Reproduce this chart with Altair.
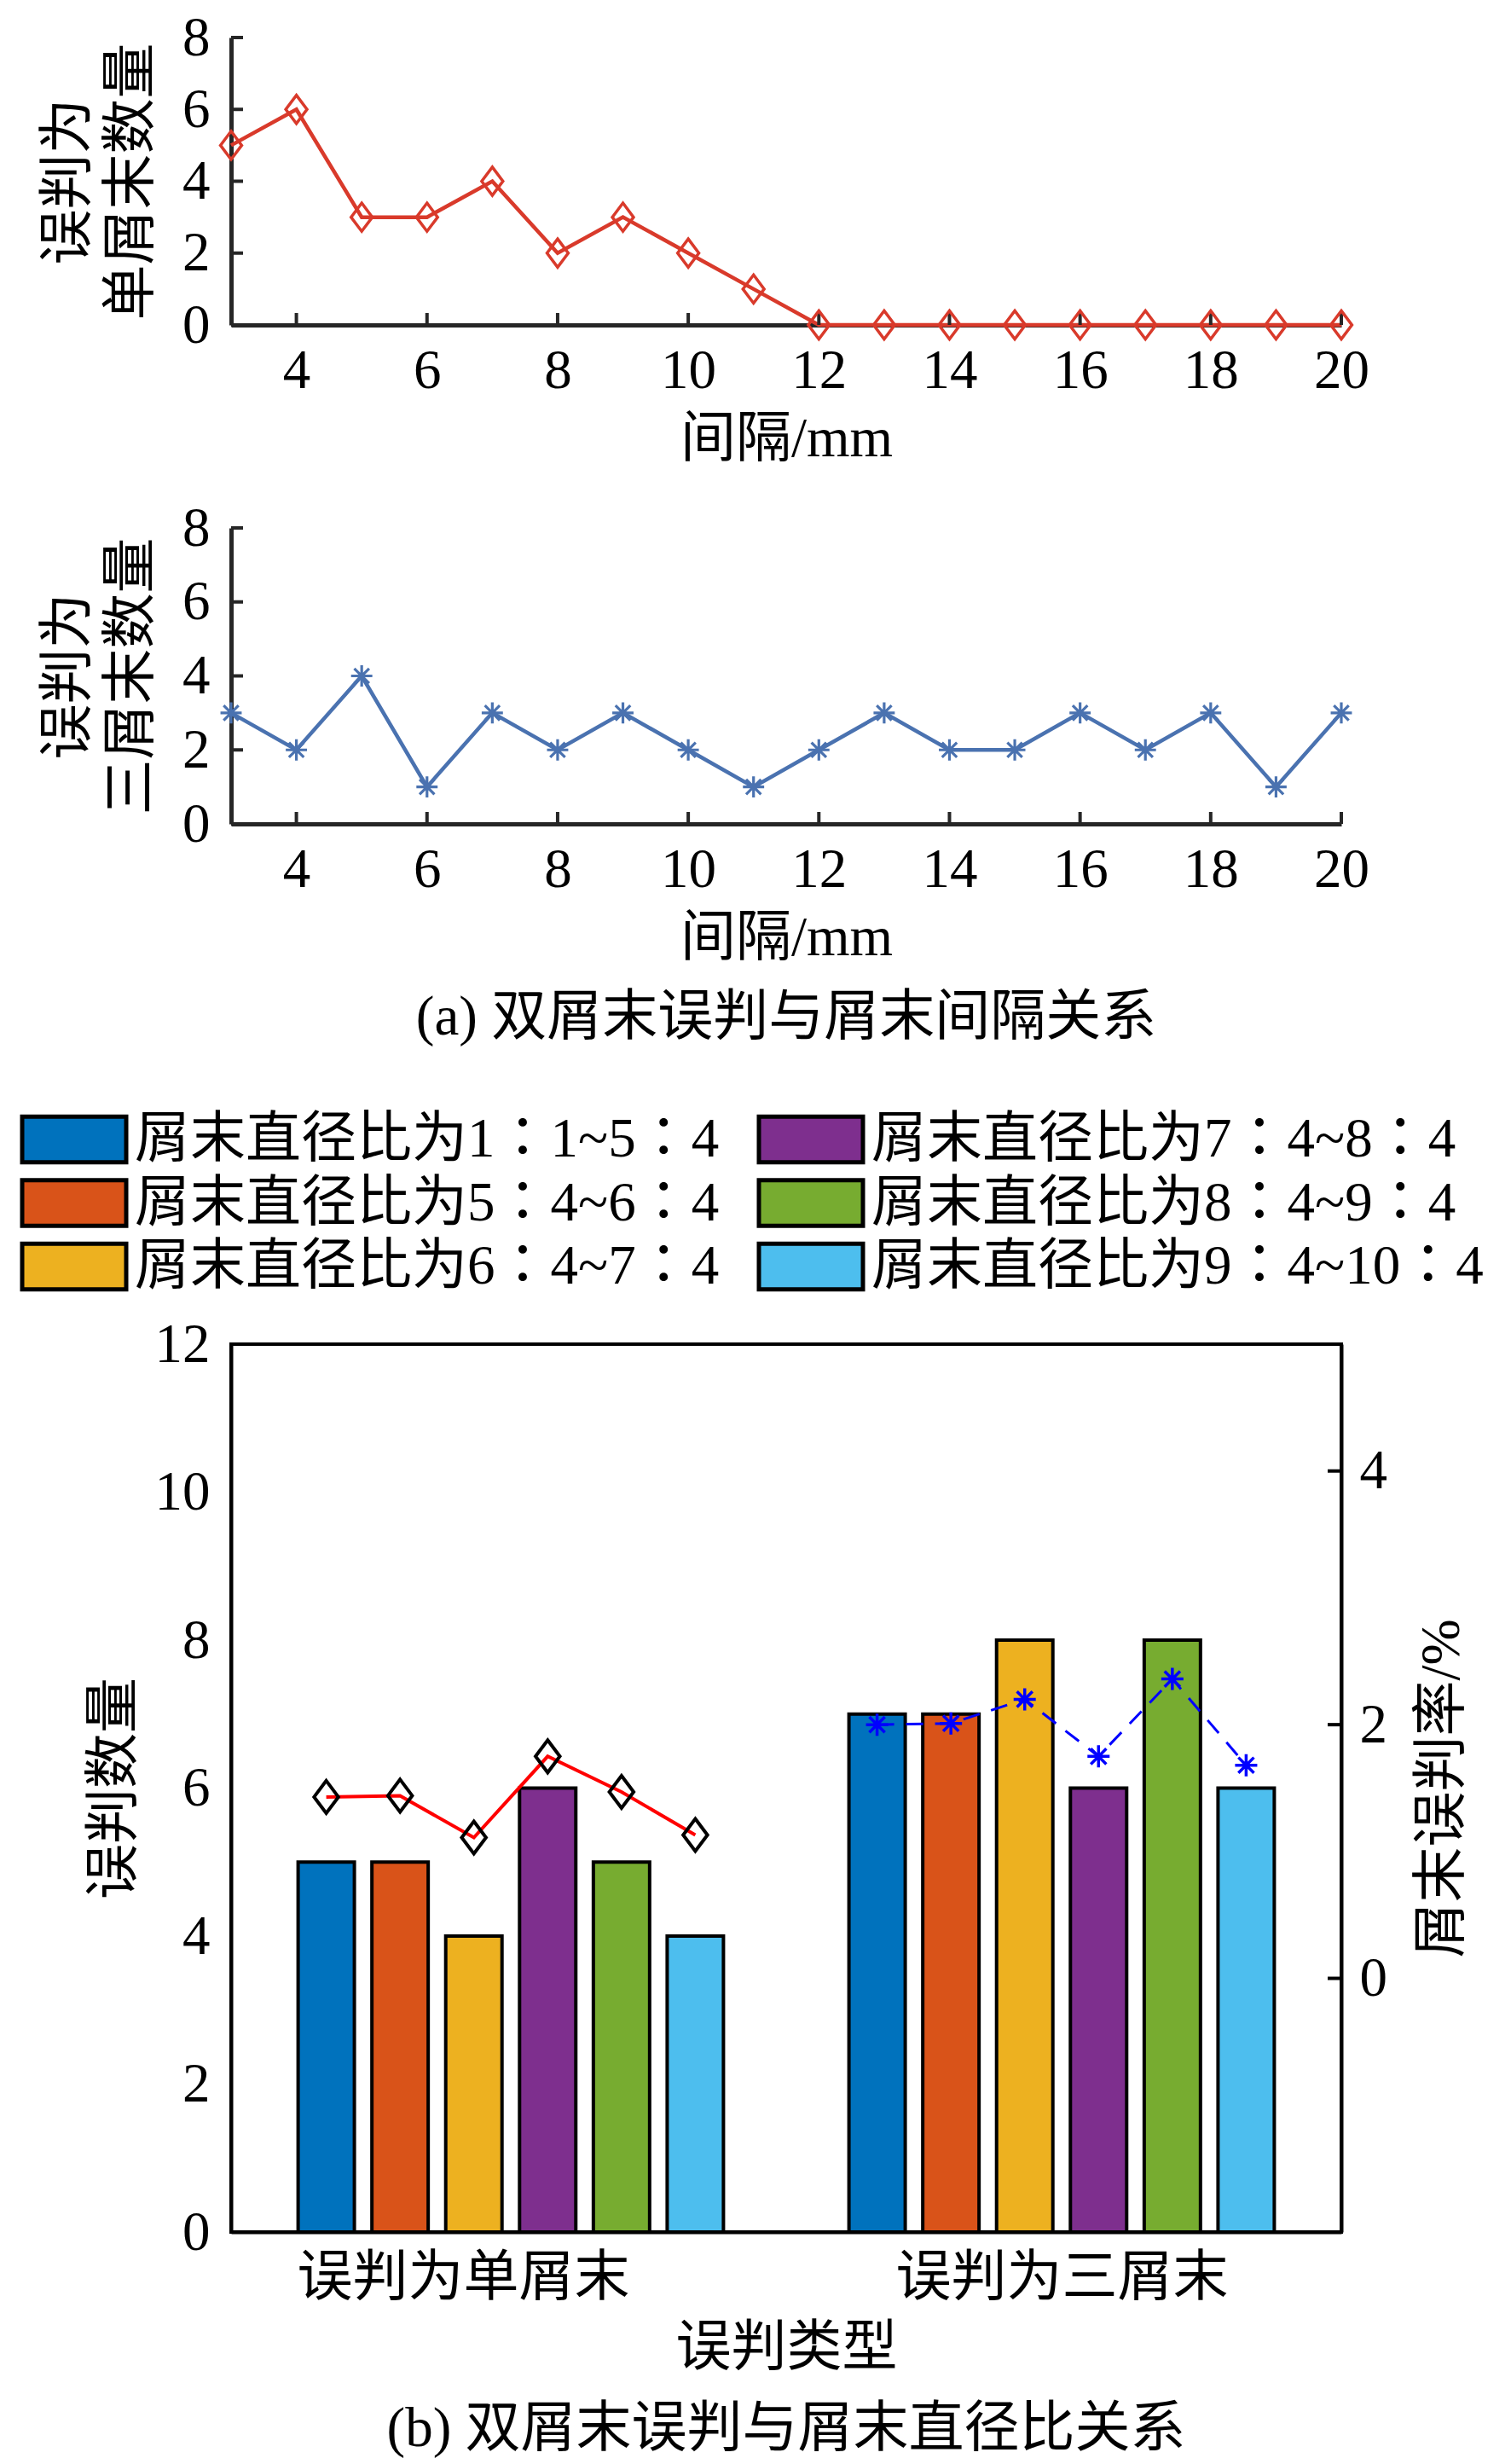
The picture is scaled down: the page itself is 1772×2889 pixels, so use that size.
import altair as alt
import pandas as pd

FONT = "Liberation Serif, Noto Sans CJK SC"
FONT_LEG = "Liberation Serif, Noto Sans CJK TC"

# ---------------- data ----------------
spacing_mm = list(range(3, 21))
single_counts = [5, 6, 3, 3, 4, 2, 3, 2, 1, 0, 0, 0, 0, 0, 0, 0, 0, 0]
triple_counts = [3, 2, 4, 1, 3, 2, 3, 2, 1, 2, 3, 2, 2, 3, 2, 3, 1, 3]
x_ticks = [4, 6, 8, 10, 12, 14, 16, 18, 20]
y_ticks_top = [0, 2, 4, 6, 8]

categories = ["误判为单屑末", "误判为三屑末"]
ratio_labels = [
    "屑末直径比为1：1~5：4",
    "屑末直径比为5：4~6：4",
    "屑末直径比为6：4~7：4",
    "屑末直径比为7：4~8：4",
    "屑末直径比为8：4~9：4",
    "屑末直径比为9：4~10：4",
]
bar_colors = ["#0072BD", "#D95319", "#EDB120", "#7E2F8E", "#77AC30", "#4DBEEE"]
bar_single = [5, 5, 4, 6, 5, 4]
bar_triple = [7, 7, 8, 6, 8, 6]
rate_single = [1.43, 1.44, 1.11, 1.75, 1.47, 1.13]
rate_triple = [2.00, 2.01, 2.20, 1.75, 2.36, 1.68]
left_ticks = [0, 2, 4, 6, 8, 10, 12]
right_ticks = [0, 2, 4]
legend_col = [0, 0, 0, 1, 1, 1]
legend_row = [0, 1, 2, 0, 1, 2]

# ---------------- layout / style ----------------
W = 1302
H_TOP1 = 337
H_TOP2 = 347
H_BOT = 1041
AX = "#262626"
DIAMOND = "M0,-1L0.75,0L0,1L-0.75,0Z"
ASTER = "M0,-1L0,1M-1,0L1,0M-0.7,-0.7L0.7,0.7M-0.7,0.7L0.7,-0.7"
SWATCH = "M-1,-0.44L1,-0.44L1,0.44L-1,0.44Z"


def top_panel(values, color, shape, size, sw, title_lines, h):
    df = pd.DataFrame({"x": spacing_mm, "y": values})
    xs = alt.Scale(domain=[3, 20], nice=False, zero=False)
    ys = alt.Scale(domain=[0, 8], nice=False)
    xax = alt.Axis(values=x_ticks, title="间隔/mm", ticks=False, grid=False,
                   domainColor=AX, domainWidth=5, labelPadding=22, titlePadding=16)
    yax = alt.Axis(values=y_ticks_top, title=title_lines, ticks=False, grid=False,
                   domainColor=AX, domainWidth=5, labelPadding=25, titlePadding=26,
                   titleLineHeight=74)
    line = alt.Chart(df).mark_line(color=color, strokeWidth=4.5).encode(
        x=alt.X("x:Q", scale=xs, axis=xax), y=alt.Y("y:Q", scale=ys, axis=yax))
    pts = alt.Chart(df).mark_point(shape=shape, size=size, filled=False, color=color,
                                   strokeWidth=sw, opacity=1).encode(
        x=alt.X("x:Q", scale=xs, axis=xax), y=alt.Y("y:Q", scale=ys, axis=yax))
    xt = alt.Chart(pd.DataFrame({"t": x_ticks})).mark_rule(color=AX, strokeWidth=4).encode(
        x=alt.X("t:Q", scale=xs, axis=xax), y=alt.value(h), y2=alt.value(h - 14))
    yt = alt.Chart(pd.DataFrame({"t": y_ticks_top})).mark_rule(color=AX, strokeWidth=4).encode(
        y=alt.Y("t:Q", scale=ys, axis=yax), x=alt.value(0), x2=alt.value(14))
    return alt.layer(line, xt, yt, pts).properties(width=W, height=h)


a1 = top_panel(single_counts, "#D93A2B", DIAMOND, 1100, 3.5, ["误判为", "单屑末数量"], H_TOP1)
a2 = top_panel(triple_counts, "#4A72B0", ASTER, 620, 3.2, ["误判为", "三屑末数量"], H_TOP2).properties(
    title=alt.TitleParams("(a) 双屑末误判与屑末间隔关系", orient="bottom", anchor="middle",
                          frame="group", offset=30, font=FONT, fontSize=65,
                          fontWeight="normal", color="black"))

# ---------------- legend panel ----------------
leg_df = pd.DataFrame({"label": ratio_labels, "col": legend_col, "row": legend_row})
xs_l = alt.Scale(domain=[0, 1], range=[-184, 680])
ys_l = alt.Scale(domain=[0, 2], range=[132, 281])
swatches = alt.Chart(leg_df).mark_point(shape=SWATCH, size=14884, filled=True, stroke="black",
                                        strokeWidth=5, opacity=1).encode(
    x=alt.X("col:Q", scale=xs_l, axis=None),
    y=alt.Y("row:Q", scale=ys_l, axis=None),
    fill=alt.Fill("label:N", scale=alt.Scale(domain=ratio_labels, range=bar_colors), legend=None))
texts = alt.Chart(leg_df).mark_text(align="left", baseline="middle", dx=71, font=FONT_LEG,
                                    fontSize=65, color="black").encode(
    x=alt.X("col:Q", scale=xs_l, axis=None),
    y=alt.Y("row:Q", scale=ys_l, axis=None),
    text="label:N")
legend_chart = alt.layer(swatches, texts).properties(width=W, height=134)

# ---------------- bottom panel ----------------
rows = []
for g, (counts, rates) in enumerate([(bar_single, rate_single), (bar_triple, rate_triple)]):
    for k in range(6):
        rows.append({"g": g, "label": ratio_labels[k], "pos": g + 1 + (k - 2.5) * 0.134,
                     "count": counts[k], "rate": rates[k]})
df_b = pd.DataFrame(rows)
df_s = df_b[df_b.g == 0]
df_t = df_b[df_b.g == 1]

xs_b = alt.Scale(domain=[0.5, 2.5], nice=False, zero=False)
label_expr = f"datum.value == 1 ? '{categories[0]}' : (datum.value == 2 ? '{categories[1]}' : '')"
xax_b = alt.Axis(values=[1, 2], labelExpr=label_expr, title="误判类型", ticks=False, grid=False,
                 domainColor="black", domainWidth=4, labelPadding=22, titlePadding=18,
                 labelLimit=2000,
                 labelOffset={"condition": {"test": "datum.value == 1", "value": -56}, "value": 0})
bars = alt.Chart(df_b).mark_bar(size=66, stroke="black", strokeWidth=4).encode(
    x=alt.X("pos:Q", scale=xs_b, axis=xax_b),
    y=alt.Y("count:Q", scale=alt.Scale(domain=[0, 12], nice=False),
            axis=alt.Axis(values=left_ticks, title="误判数量", ticks=False, grid=False,
                          domainColor="black", domainWidth=4, labelPadding=25, titlePadding=14)),
    color=alt.Color("label:N", scale=alt.Scale(domain=ratio_labels, range=bar_colors), legend=None))

ys_r = alt.Scale(domain=[-2, 5], nice=False, zero=False)
yax_r = alt.Axis(orient="right", values=right_ticks, title="屑末误判率/%", titleAngle=270,
                 titleBaseline="top", ticks=False, grid=False, domainColor="black", domainWidth=4,
                 labelPadding=21, titlePadding=33)
red_line = alt.Chart(df_s).mark_line(color="#FF0000", strokeWidth=4).encode(
    x=alt.X("pos:Q", scale=xs_b, axis=xax_b), y=alt.Y("rate:Q", scale=ys_r, axis=yax_r))
red_pts = alt.Chart(df_s).mark_point(shape=DIAMOND, size=1444, filled=False, color="black",
                                     strokeWidth=4, opacity=1).encode(
    x=alt.X("pos:Q", scale=xs_b, axis=xax_b), y=alt.Y("rate:Q", scale=ys_r, axis=yax_r))
blue_line = alt.Chart(df_t).mark_line(color="#0000FF", strokeWidth=3, strokeDash=[20, 14]).encode(
    x=alt.X("pos:Q", scale=xs_b, axis=xax_b), y=alt.Y("rate:Q", scale=ys_r, axis=yax_r))
blue_pts = alt.Chart(df_t).mark_point(shape=ASTER, size=676, filled=False, color="#0000FF",
                                      strokeWidth=3.5, opacity=1).encode(
    x=alt.X("pos:Q", scale=xs_b, axis=xax_b), y=alt.Y("rate:Q", scale=ys_r, axis=yax_r))
rt = alt.Chart(pd.DataFrame({"t": right_ticks})).mark_rule(color="black", strokeWidth=4).encode(
    y=alt.Y("t:Q", scale=ys_r, axis=yax_r), x=alt.value(W), x2=alt.value(W - 16))
right = alt.layer(red_line, blue_line, red_pts, blue_pts, rt)

bottom = alt.layer(bars, right).resolve_scale(y="independent").properties(
    width=W, height=H_BOT,
    view=alt.ViewBackground(stroke="black", strokeWidth=4),
    title=alt.TitleParams("(b) 双屑末误判与屑末直径比关系", orient="bottom", anchor="middle",
                          frame="group", offset=32, font=FONT, fontSize=65,
                          fontWeight="normal", color="black"))

chart = alt.vconcat(a1, a2, legend_chart, bottom, spacing=238, bounds="flush").configure_view(
    stroke="transparent").configure_axis(
    labelFont=FONT, labelFontSize=65, labelColor="black", labelFlush=False,
    titleFont=FONT, titleFontSize=65, titleFontWeight="normal", titleColor="black").properties(
    padding={"left": 7, "top": 3, "right": 5, "bottom": 5})

chart.save("out.html", embed_options={"renderer": "svg", "actions": False})
